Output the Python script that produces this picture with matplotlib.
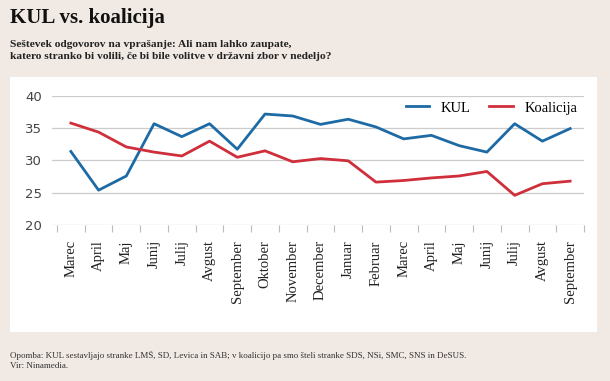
import matplotlib
matplotlib.use("Agg")
import matplotlib.pyplot as plt
from matplotlib.patches import Rectangle

months = ["Marec", "April", "Maj", "Junij", "Julij", "Avgust", "September", "Oktober",
          "November", "December", "Januar", "Februar", "Marec", "April", "Maj", "Junij",
          "Julij", "Avgust", "September"]
kul = [31.4, 25.4, 27.6, 35.7, 33.7, 35.7, 31.75, 37.2, 36.9, 35.6, 36.4, 35.2, 33.35,
       33.9, 32.3, 31.3, 35.7, 33.0, 34.95]
koalicija = [35.8, 34.4, 32.1, 31.3, 30.7, 33.0, 30.5, 31.5, 29.8, 30.3, 29.95, 26.65,
             26.9, 27.3, 27.6, 28.3, 24.6, 26.4, 26.8]
yticks = [20, 25, 30, 35, 40]

BG = "#f1e9e3"
BLUE = "#1d6aa5"
RED = "#cf2f3a"
SERIF = ["Liberation Serif", "DejaVu Serif"]

fig = plt.figure(figsize=(6.10, 3.81), dpi=100, facecolor=BG)
W, H = 610, 381

# white panel
panel = Rectangle((10 / W, 1 - 332 / H), (597 - 10) / W, (332 - 77) / H,
                  transform=fig.transFigure, facecolor="white", edgecolor="none",
                  zorder=-5)
fig.add_artist(panel)

ax = fig.add_axes([52 / W, 1 - 225 / H, (584 - 52) / W, (225 - 96) / H])
ax.set_zorder(5)
ax.set_facecolor("none")
x = list(range(len(months)))
ax.plot(x, kul, color=BLUE, lw=2.0, label="KUL")
ax.plot(x, koalicija, color=RED, lw=2.0, label="Koalicija")

ax.set_ylim(20, 40)
ax.set_xlim(-0.68, len(months) - 0.5)
ax.set_yticks(yticks)
ax.set_yticklabels([str(v) for v in yticks], fontsize=9.5, color="#444444",
                   family=["DejaVu Sans"])
ax.tick_params(axis="y", length=0, pad=7)
ax.grid(axis="y", color="#cccccc", lw=0.9)
ax.set_axisbelow(True)

ax.set_xticks([i - 0.5 for i in range(len(months) + 1)], minor=False)
ax.set_xticklabels([""] * (len(months) + 1))
ax.set_xticks(x, minor=True)
ax.set_xticklabels(months, minor=True, rotation=90, fontsize=10.5, family=SERIF,
                   color="#222222")
ax.tick_params(axis="x", which="major", length=5, color="#bbbbbb", width=0.8)
ax.tick_params(axis="x", which="minor", length=0, pad=11)
for s in ax.spines.values():
    s.set_visible(False)

leg = ax.legend(loc="upper right", bbox_to_anchor=(1.012, 1.06), ncol=2, frameon=False,
                prop={"family": SERIF, "size": 10.5}, handlelength=1.6,
                columnspacing=1.3, handletextpad=0.8)

fig.text(10 / W, 1 - 18 / H, "KUL vs. koalicija", fontsize=15, fontweight="bold",
         family=SERIF, va="center", ha="left", color="#111111")
fig.text(10 / W, 1 - 50.5 / H,
         "Seštevek odgovorov na vprašanje: Ali nam lahko zaupate,\n"
         "katero stranko bi volili, če bi bile volitve v državni zbor v nedeljo?",
         fontsize=8.2, fontweight="bold", family=SERIF, va="center", ha="left",
         color="#222222", linespacing=1.3)
fig.text(10 / W, 1 - 360.5 / H,
         "Opomba: KUL sestavljajo stranke LMŠ, SD, Levica in SAB; v koalicijo pa smo šteli "
         "stranke SDS, NSi, SMC, SNS in DeSUS.\nVir: Ninamedia.",
         fontsize=6.5, family=SERIF, va="center", ha="left", color="#333333",
         linespacing=1.35)

fig.savefig("out.png", dpi=100, facecolor=BG)
